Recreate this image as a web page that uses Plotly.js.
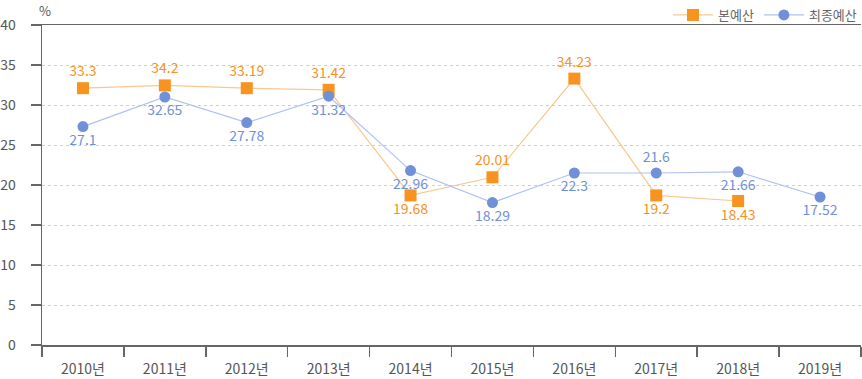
<!DOCTYPE html>
<html>
<head>
<meta charset="utf-8">
<script src="https://cdn.plot.ly/plotly-3.0.1.min.js"></script>
<style>html,body{margin:0;padding:0;background:#fff;}#chart{width:862px;height:379px;}</style>
</head>
<body>
<div id="chart"></div>
<script>
var years = ['2010년','2011년','2012년','2013년','2014년','2015년','2016년','2017년','2018년','2019년'];
// plotted positions (as drawn in the reference)
var bonValues = [32.1, 32.45, 32.1, 31.9, 18.7, 20.96, 33.3, 18.7, 18.0, null];
var finalValues = [27.3, 31.0, 27.8, 31.1, 21.8, 17.8, 21.5, 21.5, 21.65, 18.5];
// value labels shown next to the points
var bonLabels = ['33.3','34.2','33.19','31.42','19.68','20.01','34.23','19.2','18.43',''];
var finalLabels = ['27.1','32.65','27.78','31.32','22.96','18.29','22.3','21.6','21.66','17.52'];
var bonPos = ['top center','top center','top center','top center','bottom center','top center','top center','bottom center','bottom center','top center'];
var finalPos = ['bottom center','bottom center','bottom center','bottom center','bottom center','bottom center','bottom center','top center','bottom center','bottom center'];
var yTicks = [0,5,10,15,20,25,30,35,40];

var font = '"Noto Sans CJK KR", "Noto Sans", sans-serif';
var orange = '#F7931E';
var blue = '#7091D8';

var traces = [
  {
    x: years, y: bonValues, name: '본예산', type: 'scatter', mode: 'lines+markers+text',
    line: {color: '#F8C88E', width: 1.2},
    marker: {symbol: 'square', size: 12, color: orange},
    text: bonLabels, textposition: bonPos,
    textfont: {family: font, size: 14, color: orange},
    cliponaxis: false
  },
  {
    x: years, y: finalValues, name: '최종예산', type: 'scatter', mode: 'lines+markers+text',
    line: {color: '#AFC2F0', width: 1.2},
    marker: {symbol: 'circle', size: 11, color: blue},
    text: finalLabels, textposition: finalPos,
    textfont: {family: font, size: 14, color: blue},
    cliponaxis: false
  }
];

var layout = {
  width: 862, height: 379,
  margin: {l: 42, r: 1, t: 25, b: 34, autoexpand: false},
  paper_bgcolor: '#fff', plot_bgcolor: '#fff',
  font: {family: font, size: 14, color: '#555'},
  showlegend: true,
  legend: {orientation: 'h', xref: 'container', yref: 'container', x: 1, xanchor: 'right', y: 1, yanchor: 'top',
           font: {family: font, size: 13, color: '#666'}, itemwidth: 40, traceorder: 'normal',
           bgcolor: 'rgba(0,0,0,0)'},
  xaxis: {
    type: 'category', tickson: 'boundaries', range: [-0.5, 9.5],
    showline: true, linecolor: '#666', linewidth: 1.5, mirror: true,
    ticks: 'outside', ticklen: 10, tickcolor: '#666', tickwidth: 1.5,
    showgrid: false, ticklabelstandoff: 11, automargin: false,
    tickfont: {family: font, size: 14, color: '#555'}
  },
  yaxis: {
    range: [0, 40], tickvals: yTicks, ticktext: yTicks.map(String),
    showline: true, linecolor: '#666', linewidth: 1.5,
    ticks: 'outside', ticklen: 10, tickcolor: '#666', tickwidth: 1.5,
    showgrid: true, gridcolor: '#cfcfcf', griddash: 'dot', gridwidth: 1,
    zeroline: false, ticklabelstandoff: 12, automargin: false,
    tickfont: {family: font, size: 14, color: '#555'}
  },
  annotations: [
    {text: '%', xref: 'paper', yref: 'paper', x: 0, y: 1, xshift: 3, yshift: 15, showarrow: false,
     xanchor: 'center', yanchor: 'middle', font: {family: font, size: 13, color: '#555'}}
  ]
};

Plotly.newPlot('chart', traces, layout, {displayModeBar: false, staticPlot: true});
</script>
</body>
</html>
